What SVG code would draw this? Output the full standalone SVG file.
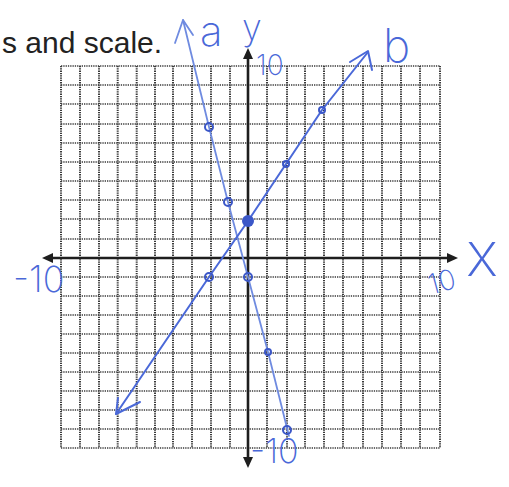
<svg xmlns="http://www.w3.org/2000/svg" width="509" height="487" viewBox="0 0 509 487">
<style>
.grid{fill:none;stroke:#3a3a3a;stroke-width:1.6;stroke-dasharray:1.3 1}
.gridv{fill:none;stroke:#3a3a3a;stroke-width:2;stroke-dasharray:1.3 1}
.axis{fill:none;stroke:#1e1e1e;stroke-width:2.6}
.head{fill:#1e1e1e}
.pen{fill:none;stroke:#4a68d8;stroke-width:2;stroke-linecap:round;stroke-linejoin:round}
.pena{fill:none;stroke:#6f8be0;stroke-width:1.8;stroke-linecap:round;stroke-linejoin:round}
.dot{fill:none;stroke:#3b57c8;stroke-width:2}
.hand{font-family:Inter,"Open Sans","DejaVu Sans",sans-serif;font-weight:200;fill:#4a68d8}
.print{font-family:"Liberation Sans",Arial,sans-serif;fill:#222}
</style>
<rect width="509" height="487" fill="#fff"/>
<text class="print" x="2" y="53" font-size="30">s and scale.</text>
<g id="grid">
<path class="gridv" d="M61 66V448M80 66V448M99 66V448M117.7 66V448M136.7 66V448M155 66V448M173 66V448M192 66V448M211 66V448M230 66V448M267 66V448M287 66V448M305 66V448M324 66V448M343 66V448M363 66V448M382 66V448M401 66V448M420 66V448M440 66V448"/>
<path class="grid" d="M61 66H440M61 85H440M61 104H440M61 124H440M61 143H440M61 162H440M61 181H440M61 200H440M61 219H440M61 239H440M61 277H440M61 296H440M61 315H440M61 334H440M61 353H440M61 372H440M61 391H440M61 410H440M61 429H440M61 448H440"/>
</g>
<g id="axes">
<path class="axis" d="M50 258H450M248 56V460"/>
<path class="head" d="M42 258L53 253L53 263Z"/>
<path class="head" d="M458 258L447 253L447 263Z"/>
<path class="head" d="M248 48L243 59L253 59Z"/>
<path class="head" d="M248 468L243 457L253 457Z"/>
</g>
<g id="connectors">
<path id="line-a" class="pena" d="M183 20L209 127L228 202L248 277L268 352L289 436"/>
<path class="pena" d="M175 43L183 20L193 35"/>
<path id="line-b" class="pen" d="M116 414L209 277L248 221L286 164L322 110L368 52"/>
<path class="pen" d="M350 62L368 51L372 70"/>
<path class="pen" d="M118 398L116 414L140 402"/>
</g>
<g id="points">
<circle class="dot" cx="209" cy="127" r="4"/>
<circle class="dot" cx="228" cy="202" r="4"/>
<circle class="dot" cx="248" cy="277" r="4"/>
<circle class="dot" cx="268" cy="352" r="3"/>
<circle class="dot" cx="287" cy="430" r="4"/>
<circle class="dot" cx="209" cy="277" r="4"/>
<circle cx="248" cy="221" r="6" fill="#3b57c8"/>
<circle class="dot" cx="286" cy="164" r="3"/>
<circle class="dot" cx="322" cy="110" r="3"/>
</g>
<g id="labels">
<text class="hand" x="200" y="46" font-size="42">a</text>
<text class="hand" x="242" y="40" font-size="36">y</text>
<text class="hand" x="256" y="75" font-size="28">10</text>
<text class="hand" x="13" y="292" font-size="36">-10</text>
<text class="hand" x="428" y="292" font-size="28" transform="rotate(-15 440 282)">10</text>
<text class="hand" x="466" y="276" font-size="62">x</text>
<text class="hand" x="383" y="62" font-size="46">b</text>
<text class="hand" x="250" y="463" font-size="34">-10</text>
</g>
</svg>
